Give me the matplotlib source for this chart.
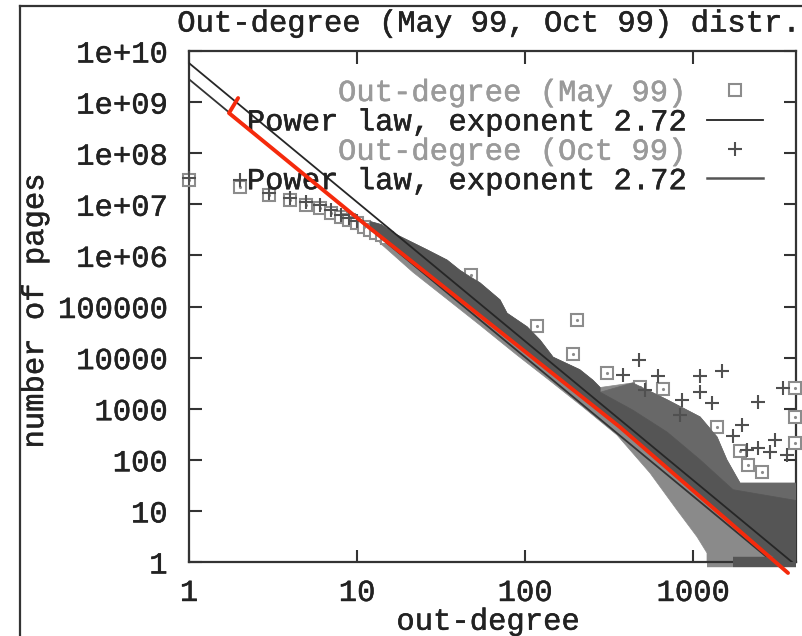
import matplotlib
matplotlib.use("Agg")
import matplotlib.pyplot as plt
import matplotlib.patheffects as pe
from matplotlib.lines import Line2D
from matplotlib.ticker import FixedLocator, FixedFormatter, NullLocator
import numpy as np

# ---------------- data ----------------
title = "Out-degree (May 99, Oct 99) distr."
xlabel = "out-degree"
ylabel = "number of pages"
legend_labels = ["Out-degree (May 99)", "Power law, exponent 2.72",
                 "Out-degree (Oct 99)", "Power law, exponent 2.72"]

x_ticks = [1, 10, 100, 1000]
x_tick_labels = ["1", "10", "100", "1000"]
y_ticks = [1, 10, 100, 1e3, 1e4, 1e5, 1e6, 1e7, 1e8, 1e9, 1e10]
y_tick_labels = ["1", "10", "100", "1000", "10000", "100000",
                 "1e+06", "1e+07", "1e+08", "1e+09", "1e+10"]
x_range = [1, 4100]
y_range = [1, 1e10]

# May 99: individually visible points (low degrees)
may_deg = [1, 2, 3, 4, 5, 6, 7, 8, 9, 10, 11, 12, 13, 14, 15]
may_cnt = [3.0e7, 2.2e7, 1.5e7, 1.2e7, 9.7e6, 8.5e6, 6.8e6, 5.6e6, 4.9e6,
           4.3e6, 3.6e6, 3.2e6, 2.8e6, 2.5e6, 2.2e6]
# May 99: isolated outliers
may_out_deg = [48, 118, 204, 193, 308, 484, 663, 1070, 1390, 1900, 2125,
               2580, 4050, 4050, 4050]
may_out_cnt = [4.1e5, 4.2e4, 5.5e4, 1.18e4, 5.0e3, 2.6e3, 2.4e3, 335, 438,
               148, 79, 58, 2.55e3, 690, 214]
# May 99: lower edge of the dense cloud
may_lo_deg = [13.7, 21.5, 34.3, 54, 89.6, 141, 221, 353, 555, 803, 1057,
              1211, 1211, 4100]
may_lo_cnt = [1.75e6, 4.7e5, 1.4e5, 4.3e4, 1.12e4, 3.5e3, 1.08e3, 305, 55,
              10.4, 3.1, 1.5, 1.0, 1.0]
# May 99: points at count 1 (bottom strip)
may_one_deg = [1211, 1730]

# Oct 99: individually visible points (low degrees)
oct_deg = [1, 2, 3, 4, 5, 6, 7, 8, 9, 10]
oct_cnt = [3.3e7, 3.0e7, 1.7e7, 1.35e7, 1.1e7, 9.6e6, 7.7e6, 6.3e6,
           5.5e6, 4.8e6]
# Oct 99: isolated outliers
oct_out_deg = [480, 383, 617, 1100, 1480, 1100, 860, 1300, 2420, 3430, 1960,
               1720, 3080, 2420, 2870, 2100, 3630, 518, 835]
oct_out_cnt = [9.0e3, 4.6e3, 4.4e3, 4.4e3, 5.5e3, 2.1e3, 1.5e3, 1.3e3,
               1.35e3, 2.5e3, 480, 290, 245, 170, 142, 155, 124, 2.3e3, 755]
# Oct 99: upper edge of the cloud (including its sparse fringe)
oct_hi_deg = [12, 14, 16.4, 26.1, 34.4, 41, 54, 71, 78.2, 103, 123, 147, 212,
              254, 280, 438, 700, 1102, 1390, 1590, 1905, 4100]
oct_hi_cnt = [4.6e6, 4.0e6, 2.75e6, 1.29e6, 8.1e5, 5.1e5, 2.9e5, 1.35e5,
              7.4e4, 4.0e4, 2.2e4, 1.02e4, 5.8e3, 3.6e3, 2.6e3, 3.2e3, 1.5e3,
              690, 280, 100, 35, 35]
# Oct 99: upper edge of the solid part of the cloud (degree >= 280)
oct_solid_deg = [280, 438, 700, 1102, 1730, 4100]
oct_solid_cnt = [2.1e3, 940, 350, 100, 26, 16]
# Oct 99: lower edge of the cloud
oct_lo_deg = [11.9, 21.5, 41, 71, 141, 280, 555, 1102, 1730, 2505, 3400, 4100]
oct_lo_cnt = [3.5e6, 7.1e5, 1.35e5, 3.2e4, 5.2e3, 900, 130, 18.7, 5.0, 1.8,
              1.0, 1.0]
oct_one_deg = [1730, 4100]

# fitted power laws (end points)
pl_may_deg = [1, 4100]
pl_may_cnt = [2.8e9, 0.42]
pl_oct_deg = [1, 4100]
pl_oct_cnt = [5.8e9, 0.86]

# red hand-drawn annotation
red_deg = [1.96, 1.73, 10.4, 367, 3675]
red_cnt = [1.2e9, 6.1e8, 4.9e6, 437, 0.61]

# ---------------- styling ----------------
FONT = "Liberation Mono"
FS = 22
TXT = "#222222"
LIGHT = "#8a8a8a"
DARK = "#555555"
SPARSE = "#686868"
MAY_MK = "#8c8c8c"
OCT_MK = "#505050"


def thick(color, w=0.35):
    return [pe.withStroke(linewidth=w, foreground=color)]


plt.rcParams["font.family"] = [FONT, "DejaVu Sans Mono"]
fig = plt.figure(figsize=(8.03, 6.36), dpi=100)
W, H = 803, 636
ax = fig.add_axes([189 / W, (H - 562) / H, 607 / W, 511 / H])
ax.set_xscale("log")
ax.set_yscale("log")
ax.set_xlim(*x_range)
ax.set_ylim(*y_range)

# May 99 cloud and points
ax.fill(np.concatenate([may_lo_deg, oct_hi_deg[::-1]]),
        np.concatenate([may_lo_cnt, oct_hi_cnt[::-1]]),
        color=LIGHT, lw=0.5, zorder=2)
ax.plot(may_one_deg, [1, 1], color=LIGHT, lw=7.5, solid_capstyle="butt",
        clip_on=False, zorder=2)
ax.plot(may_deg, may_cnt, ls="none", marker="s", ms=8, mfc="white",
        mec=MAY_MK, mew=1.5, zorder=3, clip_on=False)
ax.plot(may_out_deg, may_out_cnt, ls="none", marker="s", ms=8, mfc="white",
        mec=MAY_MK, mew=1.5, zorder=3, clip_on=False)
ax.plot(may_deg + may_out_deg, may_cnt + may_out_cnt, ls="none", marker=".",
        ms=2.5, color=MAY_MK, zorder=3, clip_on=False)
ax.plot(pl_may_deg, pl_may_cnt, color="#333333", lw=1.3, zorder=4)

# Oct 99 cloud and points
ax.fill(np.concatenate([oct_solid_deg, oct_hi_deg[-7:][::-1]]),
        np.concatenate([oct_solid_cnt, oct_hi_cnt[-7:][::-1]]),
        color=SPARSE, lw=0.5, zorder=5)
ax.fill(np.concatenate([oct_lo_deg, oct_solid_deg[::-1], oct_hi_deg[:15][::-1]]),
        np.concatenate([oct_lo_cnt, oct_solid_cnt[::-1], oct_hi_cnt[:15][::-1]]),
        color=DARK, lw=0.5, zorder=5)
ax.plot(oct_one_deg, [1, 1], color=DARK, lw=7.5, solid_capstyle="butt",
        clip_on=False, zorder=5)
ax.plot(oct_deg, oct_cnt, ls="none", marker="+", ms=9.5, mew=1.5,
        color=OCT_MK, zorder=6, clip_on=False)
ax.plot(oct_out_deg, oct_out_cnt, ls="none", marker="+", ms=9.5, mew=1.5,
        color=OCT_MK, zorder=6, clip_on=False)
ax.plot(pl_oct_deg, pl_oct_cnt, color="#262626", lw=1.3, zorder=7)

ax.plot(red_deg, red_cnt, color="#f52a0c", lw=2.8, solid_capstyle="round",
        solid_joinstyle="round", zorder=10, clip_on=False)

# axes cosmetics
for s in ax.spines.values():
    s.set_color("#333333")
    s.set_linewidth(1.6)
ax.xaxis.set_major_locator(FixedLocator(x_ticks))
ax.xaxis.set_major_formatter(FixedFormatter(x_tick_labels))
ax.yaxis.set_major_locator(FixedLocator(y_ticks))
ax.yaxis.set_major_formatter(FixedFormatter(y_tick_labels))
ax.xaxis.set_minor_locator(NullLocator())
ax.yaxis.set_minor_locator(NullLocator())
ax.tick_params(which="major", direction="in", length=9, width=1.5,
               color="#333333", top=True, right=True, labelsize=FS,
               labelcolor=TXT)
ax.tick_params(axis="y", pad=15.5)
ax.tick_params(axis="x", pad=11.5)
for t in ax.get_xticklabels() + ax.get_yticklabels():
    t.set_path_effects(thick(TXT))

ax.set_title(title, fontsize=FS, color=TXT, pad=14, x=0.4918,
             path_effects=thick(TXT))
ax.set_xlabel(xlabel, fontsize=FS, color=TXT, path_effects=thick(TXT))
ax.set_ylabel(ylabel, fontsize=FS, color=TXT, path_effects=thick(TXT))
ax.xaxis.set_label_coords(0.492, -0.0875)
ax.yaxis.set_label_coords(-0.229, 0.49)

handles = [
    Line2D([], [], ls="none", marker="s", ms=8, mfc="white", mec=MAY_MK, mew=1.5),
    Line2D([], [], color="#222222", lw=1.3),
    Line2D([], [], ls="none", marker="+", ms=9.5, mew=1.5, color=OCT_MK),
    Line2D([], [], color="#555555", lw=1.8),
]
leg_colors = ["#9a9a9a", TXT, "#9a9a9a", TXT]
leg = ax.legend(handles, legend_labels, loc="upper right",
                bbox_to_anchor=((763 - 189) / 607, (562 - 78) / 511),
                frameon=False, markerfirst=False, fontsize=FS,
                handlelength=1.84, handletextpad=0.72, labelspacing=-0.02,
                borderpad=0, borderaxespad=0, labelcolor=leg_colors)
for t, c in zip(leg.get_texts(), leg_colors):
    t.set_path_effects(thick(c))
leg.set_zorder(8)

# outer frame of the original picture
fig.add_artist(Line2D([20 / W, 20 / W], [0, 1 - 6 / H], transform=fig.transFigure,
                      color="#333333", lw=1.6))
fig.add_artist(Line2D([20 / W, 1], [1 - 6 / H, 1 - 6 / H], transform=fig.transFigure,
                      color="#333333", lw=1.6))

fig.savefig("out.png", dpi=100)
